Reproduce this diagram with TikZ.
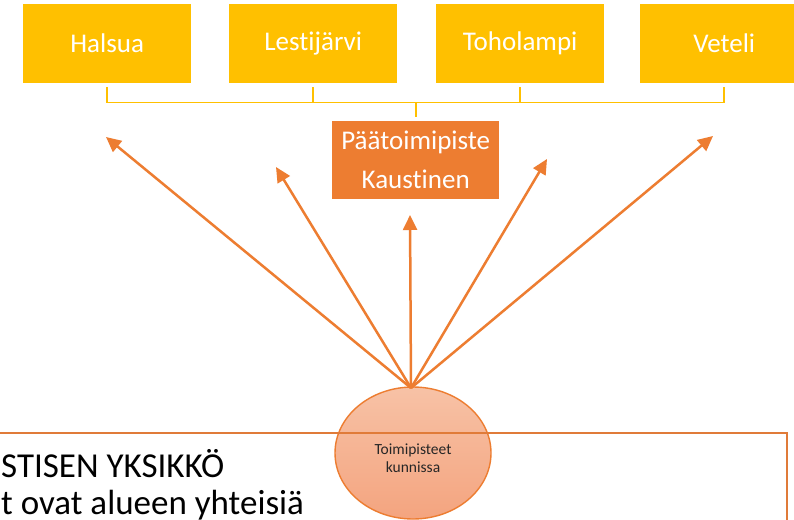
\documentclass[tikz,border=0pt]{standalone}
\usepackage{fontspec}
\setmainfont{Carlito}[Ligatures=NoCommon]
\usetikzlibrary{shapes.geometric,arrows.meta,calc}
\definecolor{gold}{HTML}{FFC000}
\definecolor{orng}{HTML}{ED7D31}
\definecolor{lineorng}{HTML}{E07B39}
\definecolor{ellTop}{HTML}{F7C2A6}
\definecolor{ellBot}{HTML}{F4A47F}
\definecolor{darktext}{HTML}{262626}
\begin{document}
\begin{tikzpicture}[x=1pt,y=-1pt,
  town/.style={fill=gold, minimum width=168pt, minimum height=79pt, inner sep=0pt,
    text=white, font=\fontsize{27}{32}\selectfont, anchor=north west},
  mainbox/.style={fill=orng, minimum width=167pt, minimum height=78pt, inner sep=0pt,
    text=white, align=center, font=\fontsize{27}{39}\selectfont, anchor=north west},
  bracket/.style={draw=gold, line width=1.6pt},
  arr/.style={draw=orng, line width=2.5pt, -{Triangle[length=15pt,width=14pt]}},
  office/.style={ellipse, draw=orng, line width=1.4pt, top color=ellTop, bottom color=ellBot,
    minimum width=156pt, minimum height=132pt, inner sep=0pt},
  officetext/.style={align=center, inner sep=0pt, text=darktext, font=\fontsize{15.5}{17.5}\selectfont},
  boxline/.style={draw=lineorng, line width=2pt},
  bigtext/.style={anchor=base west, inner sep=0pt, font=\fontsize{35}{40}\selectfont, text=black}
]
\clip (0,0) rectangle (794,519);
\fill[white] (0,0) rectangle (794,519);

% top boxes
\node[town] (hal) at (23,4) {Halsua};
\node[town] (les) at (229,4) {Lestijärvi};
\node[town] (toh) at (436,4) {Toholampi};
\node[town] (vet) at (640,4) {Veteli};

% main office
\node[mainbox] (kau) at (332,121) {Päätoimipiste\\Kaustinen};

% bracket
\coordinate (bl) at ($(hal.south)+(0,19)$);
\coordinate (br) at ($(vet.south)+(0,19)$);
\draw[bracket] ($(hal.south)+(0,4)$) -- (bl) -- (br) -- ($(vet.south)+(0,4)$);
\draw[bracket] ($(les.south)+(0,4)$) -- ($(les.south)+(0,19)$);
\draw[bracket] ($(toh.south)+(0,4)$) -- ($(toh.south)+(0,19)$);
\draw[bracket] (kau.north |- bl) -- ($(kau.north)+(0,-4)$);

% offices ellipse
\node[office] (ell) at (413,453) {};
\node[officetext] (elltext) at (413,458) {Toimipisteet\\kunnissa};

% arrow targets
\coordinate (t1) at (106,137);
\coordinate (t2) at (276,167);
\coordinate (t3) at (410,215);
\coordinate (t4) at (547,159);
\coordinate (t5) at (713,136);
\coordinate (src) at (411,388);
\foreach \t in {t1,t2,t3,t4,t5} \draw[arr] (src) -- (\t);

% bottom frame
\coordinate (fl) at (-10,433);
\coordinate (fc) at (787,433);
\coordinate (fb) at (787,530);
\draw[boxline] (fl) -- (fc) -- (fb);

\node[bigtext] (l1) at (1,477) {STISEN YKSIKKÖ};
\node[bigtext] (l2) at (1,514) {t ovat alueen yhteisiä};
\end{tikzpicture}
\end{document}
